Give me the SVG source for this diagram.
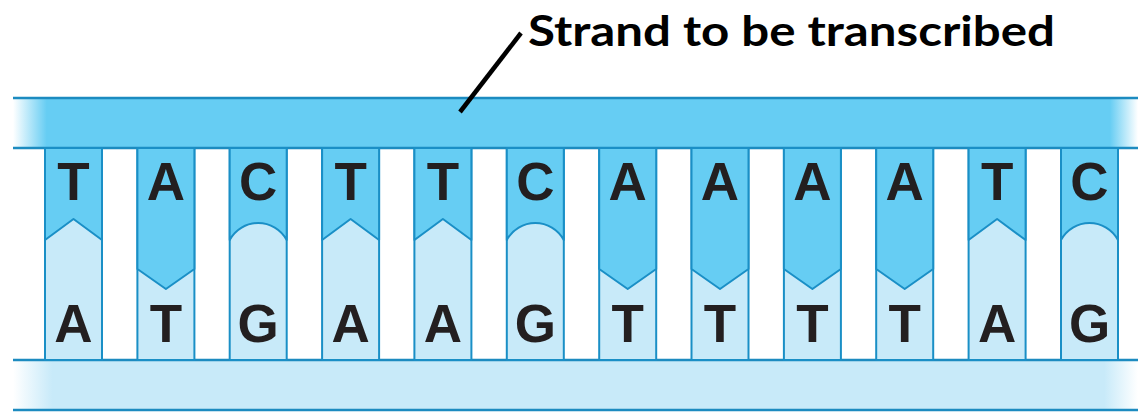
<svg xmlns="http://www.w3.org/2000/svg" width="1138" height="413" viewBox="0 0 1138 413">
  <defs>
    <linearGradient id="topFill" gradientUnits="userSpaceOnUse" x1="13" y1="0" x2="1138" y2="0">
      <stop offset="0" stop-color="#ffffff"/>
      <stop offset="0.03" stop-color="#66CDF3"/>
      <stop offset="0.975" stop-color="#66CDF3"/>
      <stop offset="1" stop-color="#ffffff"/>
    </linearGradient>
    <linearGradient id="botFill" gradientUnits="userSpaceOnUse" x1="13" y1="0" x2="1138" y2="0">
      <stop offset="0" stop-color="#ffffff"/>
      <stop offset="0.035" stop-color="#C8EAF9"/>
      <stop offset="0.97" stop-color="#C8EAF9"/>
      <stop offset="1" stop-color="#ffffff"/>
    </linearGradient>
    <style>
      .edge { stroke: #1C8BC0; stroke-width: 2.5; fill: none; }
      .base { fill: #C8EAF9; stroke: #1A8FC6; stroke-width: 2; }
      .dark { fill: #66CDF3; stroke: #1A8FC6; stroke-width: 2; stroke-linejoin: round; }
      .letter { font-family: "Liberation Sans", Arial, sans-serif; font-weight: bold; font-size: 53px; fill: #231F20; text-anchor: middle; }
      .label { font-family: Lato, "Open Sans", sans-serif; font-weight: bold; font-size: 42px; fill: #000; }
    </style>
  </defs>

  <rect width="1138" height="413" fill="#ffffff"/>

  <!-- backbone strands -->
  <g id="strand-top">
    <rect x="13" y="98" width="1125" height="50" fill="url(#topFill)"/>
    <line class="edge" x1="13" y1="98" x2="1138" y2="98"/>
    <line class="edge" x1="13" y1="148" x2="1138" y2="148"/>
  </g>
  <g id="strand-bottom">
    <rect x="13" y="360" width="1125" height="50" fill="url(#botFill)"/>
    <line class="edge" x1="13" y1="360" x2="1138" y2="360"/>
    <line class="edge" x1="13" y1="410" x2="1138" y2="410"/>
  </g>

  <!-- base pairs: column width 57, pitch 92.36 -->
  <g id="pair-1">
    <rect class="base" x="45" y="148" width="57" height="212"/>
    <path class="dark" d="M45,148 H102 V240 L73.5,219 L45,240 Z"/>
    <text class="letter" x="73.5" y="200">T</text>
    <text class="letter" x="73.5" y="342">A</text>
  </g>
  <g id="pair-2">
    <rect class="base" x="137.4" y="148" width="57" height="212"/>
    <path class="dark" d="M137.4,148 H194.4 V269 L165.9,289 L137.4,269 Z"/>
    <text class="letter" x="165.9" y="200">A</text>
    <text class="letter" x="165.9" y="342">T</text>
  </g>
  <g id="pair-3">
    <rect class="base" x="229.7" y="148" width="57" height="212"/>
    <path class="dark" d="M229.7,148 H286.7 V240 A32.4,32.4 0 0 0 229.7,240 Z"/>
    <text class="letter" x="258.2" y="200">C</text>
    <text class="letter" x="258.2" y="342">G</text>
  </g>
  <g id="pair-4">
    <rect class="base" x="322.1" y="148" width="57" height="212"/>
    <path class="dark" d="M322.1,148 H379.1 V240 L350.6,219 L322.1,240 Z"/>
    <text class="letter" x="350.6" y="200">T</text>
    <text class="letter" x="350.6" y="342">A</text>
  </g>
  <g id="pair-5">
    <rect class="base" x="414.4" y="148" width="57" height="212"/>
    <path class="dark" d="M414.4,148 H471.4 V240 L442.9,219 L414.4,240 Z"/>
    <text class="letter" x="442.9" y="200">T</text>
    <text class="letter" x="442.9" y="342">A</text>
  </g>
  <g id="pair-6">
    <rect class="base" x="506.8" y="148" width="57" height="212"/>
    <path class="dark" d="M506.8,148 H563.8 V240 A32.4,32.4 0 0 0 506.8,240 Z"/>
    <text class="letter" x="535.3" y="200">C</text>
    <text class="letter" x="535.3" y="342">G</text>
  </g>
  <g id="pair-7">
    <rect class="base" x="599.2" y="148" width="57" height="212"/>
    <path class="dark" d="M599.2,148 H656.2 V269 L627.7,289 L599.2,269 Z"/>
    <text class="letter" x="627.7" y="200">A</text>
    <text class="letter" x="627.7" y="342">T</text>
  </g>
  <g id="pair-8">
    <rect class="base" x="691.5" y="148" width="57" height="212"/>
    <path class="dark" d="M691.5,148 H748.5 V269 L720,289 L691.5,269 Z"/>
    <text class="letter" x="720" y="200">A</text>
    <text class="letter" x="720" y="342">T</text>
  </g>
  <g id="pair-9">
    <rect class="base" x="783.9" y="148" width="57" height="212"/>
    <path class="dark" d="M783.9,148 H840.9 V269 L812.4,289 L783.9,269 Z"/>
    <text class="letter" x="812.4" y="200">A</text>
    <text class="letter" x="812.4" y="342">T</text>
  </g>
  <g id="pair-10">
    <rect class="base" x="876.2" y="148" width="57" height="212"/>
    <path class="dark" d="M876.2,148 H933.2 V269 L904.7,289 L876.2,269 Z"/>
    <text class="letter" x="904.7" y="200">A</text>
    <text class="letter" x="904.7" y="342">T</text>
  </g>
  <g id="pair-11">
    <rect class="base" x="968.6" y="148" width="57" height="212"/>
    <path class="dark" d="M968.6,148 H1025.6 V240 L997.1,219 L968.6,240 Z"/>
    <text class="letter" x="997.1" y="200">T</text>
    <text class="letter" x="997.1" y="342">A</text>
  </g>
  <g id="pair-12">
    <rect class="base" x="1061" y="148" width="57" height="212"/>
    <path class="dark" d="M1061,148 H1118 V240 A32.4,32.4 0 0 0 1061,240 Z"/>
    <text class="letter" x="1089.5" y="200">C</text>
    <text class="letter" x="1089.5" y="342">G</text>
  </g>

  <!-- callout -->
  <g id="connectors">
    <line x1="521" y1="33" x2="460" y2="112" stroke="#000" stroke-width="4.5"/>
  </g>
  <g id="label">
    <text class="label" x="528" y="46" textLength="527" lengthAdjust="spacingAndGlyphs">Strand to be transcribed</text>
  </g>
</svg>
